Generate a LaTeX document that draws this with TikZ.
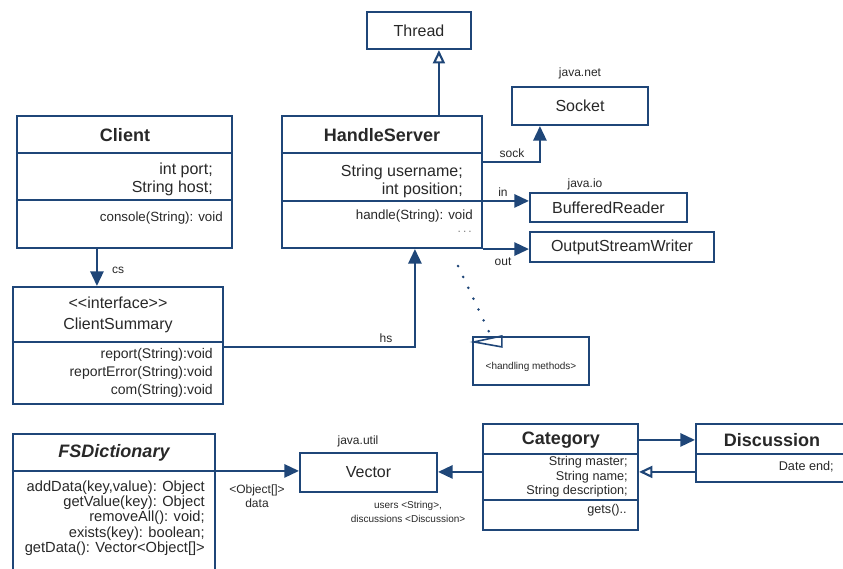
\documentclass[tikz,border=0pt]{standalone}
\usepackage{fontspec}
\setmainfont{Liberation Sans}
\usetikzlibrary{arrows.meta, positioning, fit, calc}
\definecolor{umlblue}{RGB}{31,70,120}
\definecolor{umltext}{RGB}{40,40,40}

\begin{document}
\begin{tikzpicture}[x=0.75pt, y=-0.75pt,
    box/.style={draw=umlblue, line width=1.6pt, inner sep=0pt, fill=white},
    plain/.style={font=\fontsize{12}{14}\selectfont, text=umltext, inner sep=0pt},
    title/.style={font=\fontsize{13.5}{16}\selectfont\bfseries, text=umltext, inner sep=0pt},
    attr/.style={font=\fontsize{12}{13.5}\selectfont, text=umltext, inner sep=0pt, align=right, anchor=east},
    meth/.style={font=\fontsize{10}{13.5}\selectfont, text=umltext, inner sep=0pt, align=right, anchor=east},
    tag/.style={font=\fontsize{9}{10.5}\selectfont, text=umltext, inner sep=0pt},
    divider/.style={draw=umlblue, line width=1.6pt},
    link/.style={draw=umlblue, line width=1.6pt, -{Triangle[length=11pt, width=10pt]}},
    inherit/.style={draw=umlblue, line width=1.6pt, -{Triangle[open, fill=white, length=10pt, width=9pt]}},
]
\useasboundingbox (0,0) rectangle (843,568);
\clip (0,0) rectangle (843,568);

% Library classes
\node[box, fit={(367,12) (471,49)}] (thread) {};
\node[plain] (threadname) at (thread.center) {Thread};
\node[box, fit={(512,87) (648,125)}] (socket) {};
\node[plain] (socketname) at (socket.center) {Socket};
\node[tag] (javanet) at (580,73) {java.net};
\node[box, fit={(530,193) (687,222)}] (reader) {};
\node[plain] (readername) at (reader.center) {BufferedReader};
\node[tag] (javaio) at (585,184) {java.io};
\node[box, fit={(530,232) (714,262)}] (writer) {};
\node[plain] (writername) at (writer.center) {OutputStreamWriter};

% Client
\node[box, fit={(17,116) (232,248)}] (client) {};
\draw[divider] ($(client.north west)+(0,38)$) -- ($(client.north east)+(0,38)$);
\draw[divider] ($(client.north west)+(0,85)$) -- ($(client.north east)+(0,85)$);
\node[title] (clientname) at (125,135) {Client};
\node[attr] (clientattr) at (213,179) {int port;\\String host;};
\node[meth] (clientops) at (223,218) {console(String): void};

% HandleServer
\node[box, fit={(282,116) (482,248)}] (hserver) {};
\draw[divider] ($(hserver.north west)+(0,38)$) -- ($(hserver.north east)+(0,38)$);
\draw[divider] ($(hserver.north west)+(0,86)$) -- ($(hserver.north east)+(0,86)$);
\node[title] (hservername) at (382,135) {HandleServer};
\node[attr] (hserverattr) at (463,181) {String username;\\int position;};
\node[meth] (hserverops) at (473,216) {handle(String): void};
\node[tag, text=gray, anchor=east] (hserverdots) at (472,232) {.\,.\,.};

% ClientSummary
\node[box, fit={(13,287) (223,404)}] (csum) {};
\draw[divider] ($(csum.north west)+(0,56)$) -- ($(csum.north east)+(0,56)$);
\node[font=\fontsize{12}{16}\selectfont, text=umltext, align=center, inner sep=0pt] (csumname) at (118,315) {<{}<interface>{}>\\ClientSummary};
\node[meth, font=\fontsize{10.5}{13.5}\selectfont] (csumops) at (213,373) {report(String):void\\reportError(String):void\\com(String):void};

% note
\node[box, fit={(473,337) (589,385)}] (note) {};
\draw[umlblue, line width=1.2pt] ($(note.north west)+(2,6)$) -- ($(note.north west)+(30,0)$) -- ($(note.north west)+(30,11)$) -- cycle;
\node[tag, font=\fontsize{7.5}{9}\selectfont] (notetext) at (531,367) {<handling methods>};

% FSDictionary
\node[box, fit={(13,434) (215,590)}] (fsdict) {};
\draw[divider] ($(fsdict.north west)+(0,38)$) -- ($(fsdict.north east)+(0,38)$);
\node[title, font=\fontsize{13.5}{16}\selectfont\bfseries\itshape] (fsdictname) at (114,453) {FSDictionary};
\node[meth, font=\fontsize{11}{11.5}\selectfont] (fsdictops) at (205,518) {addData(key,value): Object\\getValue(key): Object\\removeAll(): void;\\exists(key): boolean;\\getData(): Vector<Object[]>};

% Vector
\node[box, fit={(300,453) (437,492)}] (vector) {};
\node[plain] (vectorname) at (vector.center) {Vector};
\node[tag] (javautil) at (358,441) {java.util};

% Category
\node[box, fit={(483,424) (638,530)}] (category) {};
\draw[divider] ($(category.north west)+(0,31)$) -- ($(category.north east)+(0,31)$);
\draw[divider] ($(category.north west)+(0,77)$) -- ($(category.north east)+(0,77)$);
\node[title] (categoryname) at (561,440) {Category};
\node[meth, font=\fontsize{9.5}{11}\selectfont] (categoryattr) at (628,477) {String master;\\String name;\\String description;};
\node[meth, font=\fontsize{9.5}{11}\selectfont] (categoryops) at (627,510) {gets()..};

% Discussion
\node[box, fit={(696,424) (870,482)}] (discussion) {};
\draw[divider] ($(discussion.north west)+(0,31)$) -- ($(discussion.north east)+(0,31)$);
\node[title] (discussionname) at (772,440) {Discussion};
\node[meth, font=\fontsize{9.5}{11}\selectfont] (discussionattr) at (834,467) {Date end;};

% connectors
\draw[inherit] ($(hserver.north west)+(158,0)$) coordinate (t0) -- (t0 |- thread.south);
\draw[link] ($(hserver.north east)+(0,47)$) -| ($(socket.south west)+(29,0)$);
\node[tag] (socklbl) at (512,153) {sock};
\draw[link] ($(hserver.north east)+(0,86)$) coordinate (i0) -- (i0 -| reader.west);
\node[tag] (inlbl) at (503,192) {in};
\draw[link] (hserver.south east) -- (hserver.south east -| writer.west);
\node[tag] (outlbl) at (503,262) {out};
\draw[link] ($(client.south west)+(81,0)$) coordinate (c0) -- (c0 |- csum.north);
\node[tag] (cslbl) at (118,270) {cs};
\draw[link] ($(csum.north east)+(0,61)$) -| ($(hserver.south west)+(134,0)$);
\node[tag] (hslbl) at (386,338) {hs};
\draw[umlblue, line width=2.2pt, line cap=round, dash pattern=on 0pt off 9pt] ($(hserver.south east)+(-25,17)$) -- ($(note.north west)+(19,0)$);

\draw[link] ($(fsdict.north west)+(0,38)$) coordinate (d0) -- (d0 -| vector.west);
\node[tag, align=center] (datalbl) at (257,496) {<Object[]>\\data};
\draw[link] ($(category.north west)+(0,49)$) coordinate (v0) -- (v0 -| vector.east);
\node[tag, font=\fontsize{7.5}{11}\selectfont, align=center] (vectorlbl) at (408,512) {users <String>,\\discussions <Discussion>};
\draw[link] ($(category.north east)+(0,17)$) coordinate (k0) -- (k0 -| discussion.west);
\draw[inherit] ($(discussion.north west)+(0,49)$) coordinate (k1) -- (k1 -| category.east);
\end{tikzpicture}
\end{document}
